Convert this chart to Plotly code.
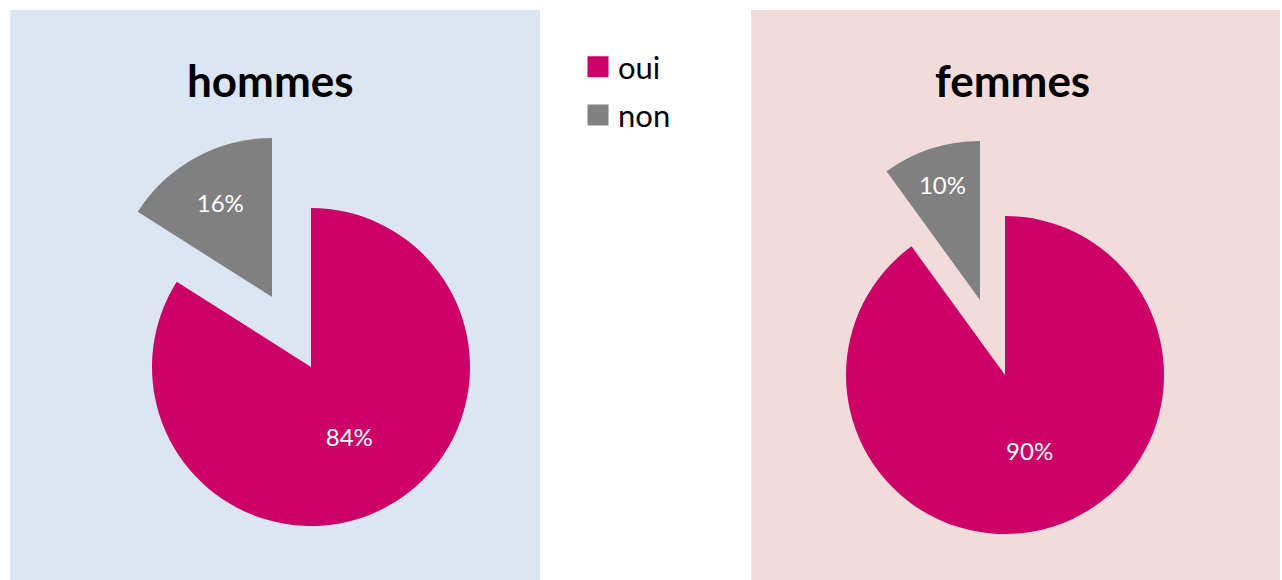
import plotly.graph_objects as go

# ---- data ----
labels = ["oui", "non"]
hommes_values = [84, 16]
femmes_values = [90, 10]
panel_titles = ["hommes", "femmes"]
colors = {"oui": "#CC0066", "non": "#808080"}

W, H = 1282, 580
CLEAR = "rgba(0,0,0,0)"
FONT = "Lato, 'Open Sans', sans-serif"


def dom(cx, cy, r):
    return dict(x=[(cx - r) / W, (cx + r) / W],
                y=[1 - (cy + r) / H, 1 - (cy - r) / H])


fig = go.Figure()

# panel backgrounds
fig.add_shape(type="rect", xref="paper", yref="paper",
              x0=10 / W, x1=540 / W, y0=0, y1=1 - 10 / H,
              fillcolor="#DCE6F2", line_width=0, layer="below")
fig.add_shape(type="rect", xref="paper", yref="paper",
              x0=751 / W, x1=1280 / W, y0=0, y1=1 - 10 / H,
              fillcolor="#F2DCDB", line_width=0, layer="below")

# pies: main slice (oui) and exploded slice (non) drawn as two layers
panels = [
    (hommes_values, (311, 367), (272, 297)),
    (femmes_values, (1005, 375), (980, 300)),
]
R = 159
for values, c_main, c_pull in panels:
    # oui slice
    fig.add_trace(go.Pie(
        labels=labels, values=values, sort=False, direction="clockwise",
        rotation=0, domain=dom(*c_main, R), showlegend=False,
        marker=dict(colors=[colors["oui"], CLEAR], line=dict(width=0)),
        texttemplate=["%{percent:.0%}", ""], textposition="inside",
        insidetextorientation="horizontal",
        textfont=dict(family=FONT, size=24, color="white"),
        hoverinfo="label+percent",
    ))
    # non slice (exploded)
    fig.add_trace(go.Pie(
        labels=labels, values=values, sort=False, direction="clockwise",
        rotation=0, domain=dom(*c_pull, R), showlegend=False,
        marker=dict(colors=[CLEAR, colors["non"]], line=dict(width=0)),
        texttemplate=["", "%{percent:.0%}"], textposition="inside",
        insidetextorientation="horizontal",
        textfont=dict(family=FONT, size=24, color="white"),
        hoverinfo="label+percent",
    ))

# legend entries
for i, lab in enumerate(labels):
    fig.add_trace(go.Scatter(
        x=[None], y=[None], mode="markers", name=lab, legendgroup=lab,
        marker=dict(symbol="square", size=16, color=colors[lab],
                    line=dict(width=5, color=colors[lab])),
    ))

# titles
for title, cx in zip(panel_titles, [270, 1012]):
    fig.add_annotation(text=f"<b>{title}</b>", x=cx / W, y=1 - 80 / H,
                       xref="paper", yref="paper", showarrow=False,
                       xanchor="center", yanchor="middle",
                       font=dict(family=FONT, size=44, color="black"))

fig.update_layout(
    width=W, height=H,
    margin=dict(l=0, r=0, t=0, b=0),
    paper_bgcolor="white", plot_bgcolor="white",
    xaxis=dict(visible=False), yaxis=dict(visible=False),
    legend=dict(x=578 / W, y=1 - 40 / H, xanchor="left", yanchor="top",
                bgcolor=CLEAR, borderwidth=0, tracegroupgap=5,
                font=dict(family=FONT, size=31, color="black")),
    font=dict(family=FONT),
)

fig.write_html("out.html", config={"displayModeBar": False},
               post_script="document.body.style.margin='0';"
                           "document.body.style.overflow='hidden';")
